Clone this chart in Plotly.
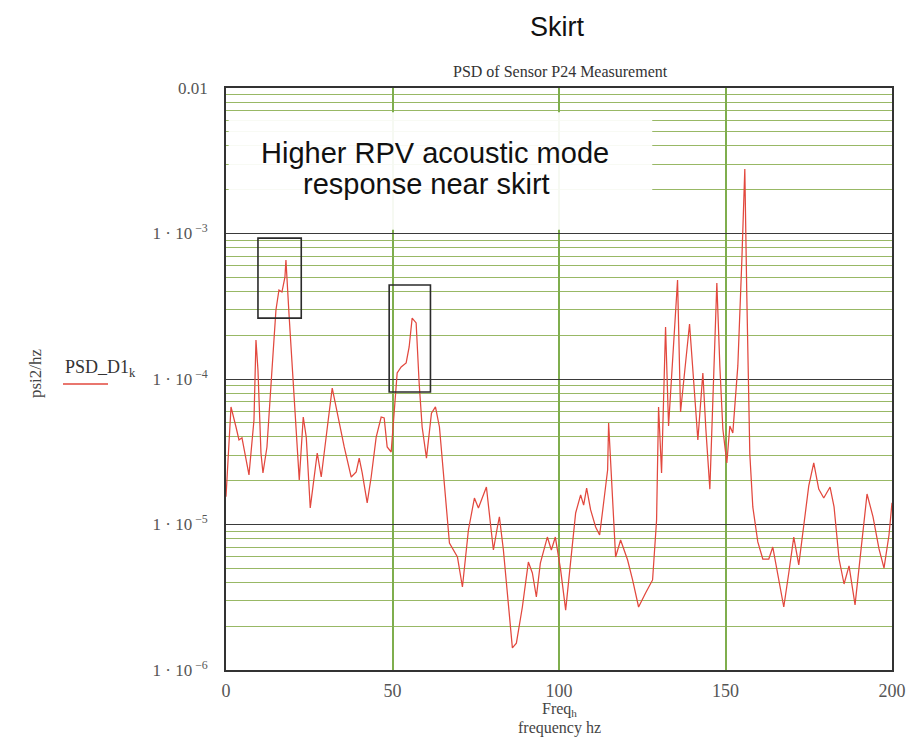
import plotly.graph_objects as go

# ---- data ----
freq_hz = [0, 1.5, 3.0, 3.9, 4.8, 6.9, 8.4, 9.0, 9.6, 10.5, 11.1, 12.3, 13.8, 15.0, 15.9,
           16.8, 17.7, 18.0, 18.9, 19.8, 21.1, 22.0, 23.2, 24.1, 25.3, 26.8, 27.4, 28.6,
           29.5, 30.7, 31.9, 33.4, 35.5, 37.6, 39.1, 40.0, 40.9, 42.4, 43.6, 45.1, 46.6,
           47.5, 48.4, 49.6, 50.5, 51.4, 52.6, 54.1, 55.0, 55.9, 57.1, 58.0, 58.9, 60.2,
           61.7, 62.9, 64.1, 65.6, 67.1, 69.5, 71.0, 72.8, 74.6, 75.8, 77.0, 78.2, 79.4,
           80.3, 81.5, 82.1, 83.3, 84.5, 86.0, 87.2, 89.0, 90.8, 92.0, 93.2, 94.4, 96.5,
           97.7, 98.9, 100.5, 102.0, 103.5, 105.0, 106.5, 107.4, 108.3, 109.5, 111.0,
           112.2, 113.4, 114.6, 114.9, 115.8, 117.0, 118.5, 120.6, 122.1, 123.9, 126.0,
           128.1, 129.3, 129.9, 130.8, 132.0, 132.9, 134.1, 135.6, 136.5, 138.0, 139.2,
           140.5, 141.7, 143.2, 144.1, 145.3, 146.2, 147.4, 148.3, 149.2, 150.4, 151.3,
           152.2, 153.7, 154.9, 155.8, 156.4, 157.3, 158.2, 159.7, 161.2, 163.0, 164.2,
           165.7, 167.5, 169.0, 170.5, 172.0, 173.5, 175.0, 176.5, 178.0, 179.5, 181.4,
           182.6, 184.1, 185.6, 187.1, 188.9, 190.7, 192.5, 194.3, 196.1, 197.6, 199.1,
           200.0]

psd_d1 = [1.55e-5, 6.43e-5, 4.68e-5, 3.81e-5, 3.94e-5, 2.19e-5, 5.23e-5, 1.85e-4, 1.15e-4,
          3.10e-5, 2.26e-5, 3.41e-5, 1.15e-4, 2.98e-4, 4.09e-4, 3.96e-4, 5.02e-4, 6.58e-4,
          2.84e-4, 1.35e-4, 3.99e-5, 2.02e-5, 5.48e-5, 3.99e-5, 1.30e-5, 2.48e-5, 3.10e-5,
          2.12e-5, 3.25e-5, 5.23e-5, 8.67e-5, 5.83e-5, 3.41e-5, 2.12e-5, 2.30e-5, 2.86e-5,
          2.26e-5, 1.41e-5, 2.12e-5, 3.99e-5, 5.48e-5, 5.40e-5, 3.41e-5, 3.15e-5, 6.43e-5,
          1.10e-4, 1.21e-4, 1.29e-4, 1.66e-4, 2.62e-4, 2.43e-4, 9.39e-5, 4.68e-5, 2.86e-5,
          5.83e-5, 6.43e-5, 4.68e-5, 1.81e-5, 7.46e-6, 5.98e-6, 3.72e-6, 9.17e-6, 1.52e-5,
          1.30e-5, 1.55e-5, 1.81e-5, 1.02e-5, 6.68e-6, 9.61e-6, 1.13e-5, 6.68e-6, 3.18e-6,
          1.42e-6, 1.53e-6, 2.71e-6, 5.52e-6, 4.64e-6, 3.18e-6, 5.43e-6, 8.20e-6, 6.68e-6,
          8.20e-6, 4.86e-6, 2.58e-6, 5.43e-6, 1.20e-5, 1.60e-5, 1.36e-5, 1.78e-5, 1.26e-5,
          9.61e-6, 8.47e-6, 1.41e-5, 2.37e-5, 4.99e-5, 1.81e-5, 5.98e-6, 7.82e-6, 5.70e-6,
          4.16e-6, 2.71e-6, 3.38e-6, 4.16e-6, 1.07e-5, 6.43e-5, 2.26e-5, 2.28e-4, 4.75e-5,
          1.23e-4, 4.79e-4, 5.93e-5, 1.23e-4, 2.39e-4, 9.24e-5, 3.81e-5, 1.10e-4, 4.53e-5,
          1.75e-5, 7.06e-5, 4.57e-4, 1.23e-4, 4.53e-5, 2.65e-5, 4.75e-5, 4.26e-5, 1.23e-4,
          6.47e-4, 2.77e-3, 3.72e-4, 3.05e-5, 1.32e-5, 7.59e-6, 5.79e-6, 5.79e-6, 7.00e-6,
          4.64e-6, 2.71e-6, 4.64e-6, 8.20e-6, 5.27e-6, 1.01e-5, 1.84e-5, 2.65e-5, 1.75e-5,
          1.52e-5, 1.81e-5, 1.32e-5, 5.79e-6, 3.90e-6, 5.19e-6, 2.80e-6, 6.79e-6, 1.62e-5,
          1.13e-5, 6.79e-6, 5.02e-6, 8.47e-6, 1.41e-5]

x_ticks = [0, 50, 100, 150, 200]
y_ticks = [1e-6, 1e-5, 1e-4, 1e-3, 1e-2]
y_tick_text = ["1 · 10<sup> −6</sup>", "1 · 10<sup> −5</sup>", "1 · 10<sup> −4</sup>",
               "1 · 10<sup> −3</sup>", "0.01"]

# highlight boxes: (f0, f1, psd_low, psd_high)
highlight_boxes = [(9.6, 22.6, 2.62e-4, 9.3e-4), (49.0, 61.4, 8.15e-5, 4.43e-4)]
note_box = (0.8, 128.0, 1.06e-3, 6.8e-3)

SERIF = "Liberation Serif, Times New Roman, serif"
SANS = "Liberation Sans, Arial, sans-serif"
RED = "#e2483e"

# plot-area pixel geometry helpers (for placing text in paper coords)
L, T, W, H = 226, 88, 666, 582
def px(x):
    return (x - L) / W
def py(y):
    return (T + H - y) / H

fig = go.Figure()
fig.add_trace(go.Scatter(x=freq_hz, y=psd_d1, mode="lines",
                         line=dict(color=RED, width=1.25), showlegend=False,
                         hoverinfo="skip"))

shapes = []
shapes.append(dict(type="rect", xref="x", yref="y", x0=note_box[0], x1=note_box[1],
                   y0=note_box[2], y1=note_box[3], fillcolor="white", opacity=0.93,
                   line=dict(width=0), layer="between"))
for f0, f1, p0, p1 in highlight_boxes:
    shapes.append(dict(type="rect", xref="x", yref="y", x0=f0, x1=f1, y0=p0, y1=p1,
                       line=dict(color="#2b2b2b", width=1.6), fillcolor="rgba(0,0,0,0)",
                       layer="above"))
shapes.append(dict(type="line", xref="paper", yref="paper", x0=px(63), x1=px(108),
                   y0=py(384), y1=py(384), line=dict(color=RED, width=1.3)))

def ann(text, x, y, font, xanchor="center", yanchor="middle", angle=0):
    return dict(text=text, xref="paper", yref="paper", x=px(x), y=py(y),
                xanchor=xanchor, yanchor=yanchor, showarrow=False, textangle=angle,
                font=font)

annotations = [
    ann("Skirt", 557, 27, dict(family=SANS, size=27, color="#111")),
    ann("PSD of Sensor P24 Measurement", 560, 71, dict(family=SERIF, size=16, color="#333")),
    ann("Higher RPV acoustic mode", 435, 153, dict(family=SANS, size=29, color="#111")),
    ann("response near skirt", 426, 184, dict(family=SANS, size=29, color="#111")),
    ann("Freq<sub>h</sub>", 559, 709, dict(family=SERIF, size=16, color="#444")),
    ann("frequency hz", 559, 728, dict(family=SERIF, size=16, color="#444")),
    ann("psi2/hz", 35, 373, dict(family=SERIF, size=17, color="#444"), angle=-90),
    ann("PSD_D1<sub>k</sub>", 63, 368, dict(family=SERIF, size=18, color="#333"),
        xanchor="left"),
]

fig.update_layout(
    width=922, height=743,
    margin=dict(l=L, r=922 - L - W, t=T, b=743 - T - H),
    paper_bgcolor="white", plot_bgcolor="white",
    shapes=shapes, annotations=annotations,
    showlegend=False,
)
fig.update_xaxes(range=[0, 200], tickvals=x_ticks, ticktext=[str(v) for v in x_ticks],
                 showgrid=True, gridcolor="#7fae4e", gridwidth=1.5, zeroline=False,
                 showline=True, linecolor="#333", linewidth=1.6, mirror=True,
                 ticks="", ticklabelstandoff=4,
                 tickfont=dict(family=SERIF, size=18, color="#555"))
fig.update_yaxes(type="log", range=[-6, -2], tickvals=y_ticks, ticktext=y_tick_text,
                 showgrid=True, gridcolor="#3a3a3a", gridwidth=1.2, zeroline=False,
                 showline=True, linecolor="#333", linewidth=1.6, mirror=True,
                 ticks="", ticklabelstandoff=13,
                 tickfont=dict(family=SERIF, size=17, color="#555"),
                 minor=dict(dtick="D1", showgrid=True, gridcolor="#98b865",
                            gridwidth=1.4, ticks=""))

fig.write_html("out.html")
